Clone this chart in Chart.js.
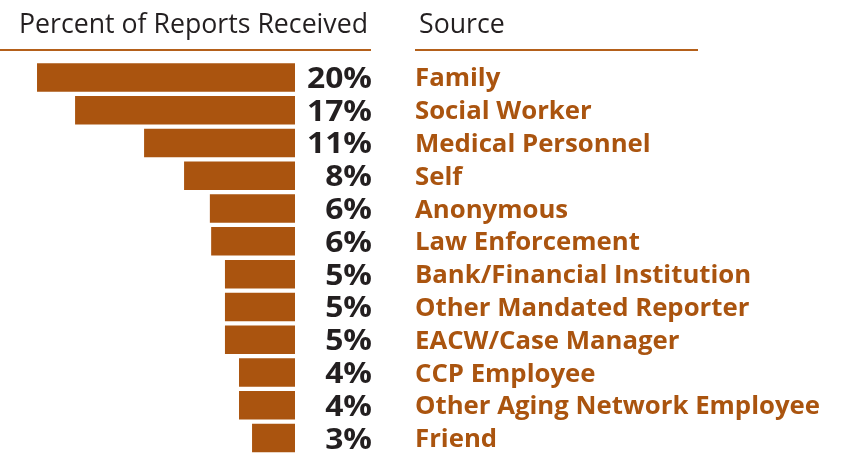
<!DOCTYPE html>
<html lang="en">
<head>
    <meta charset="UTF-8"/>
    <title>Percent of Reports Received by Source</title>
    <script src="https://cdn.jsdelivr.net/npm/chart.js"></script>
    <style>
        html, body {
            margin: 0;
            padding: 0;
            background-color: #fff;
            overflow: hidden;
        }
        #wrap {
            width: 845px;
            height: 458px;
            position: relative;
        }
    </style>
</head>
<body>
<div id="wrap">
    <canvas id="reportsChart" width="845" height="458"></canvas>
</div>

<script>
    // data
    const sources = [
        'Family', 'Social Worker', 'Medical Personnel', 'Self', 'Anonymous',
        'Law Enforcement', 'Bank/Financial Institution', 'Other Mandated Reporter',
        'EACW/Case Manager', 'CCP Employee', 'Other Aging Network Employee', 'Friend'
    ];
    const percentLabels = ['20%', '17%', '11%', '8%', '6%', '6%', '5%', '5%', '5%', '4%', '4%', '3%'];
    // bar lengths as drawn (the printed bars are not exactly proportional to the rounded labels)
    const barValues = [20.0, 17.05, 11.7, 8.6, 6.6, 6.5, 5.43, 5.43, 5.43, 4.34, 4.34, 3.33];

    const headerLeft = 'Percent of Reports Received';
    const headerRight = 'Source';

    const BROWN = '#aa540f';
    const INK = '#231f20';
    const FONT = '"Open Sans", "DejaVu Sans", sans-serif';

    // draw text squeezed horizontally so it matches the narrower original typeface
    function squeezedText(ctx, text, x, y, squeeze, align) {
        ctx.save();
        ctx.translate(x, y);
        ctx.scale(squeeze, 1);
        ctx.textAlign = align || 'left';
        ctx.fillText(text, 0, 0);
        ctx.restore();
    }

    const labelsPlugin = {
        id: 'labelsPlugin',
        afterDraw(chart) {
            const ctx = chart.ctx;
            const yScale = chart.scales.y;
            const right = chart.chartArea.right;

            ctx.save();
            ctx.textBaseline = 'alphabetic';

            // headers
            ctx.fillStyle = INK;
            ctx.font = '28px ' + FONT;
            let sq = 349 / ctx.measureText(headerLeft).width;
            squeezedText(ctx, headerLeft, 19, 33, sq);
            squeezedText(ctx, headerRight, 419, 33, sq);

            // header rules
            ctx.strokeStyle = '#b4601a';
            ctx.lineWidth = 2;
            ctx.beginPath();
            ctx.moveTo(0, 50); ctx.lineTo(right + 76, 50);
            ctx.moveTo(415, 50); ctx.lineTo(698, 50);
            ctx.stroke();

            // percent labels
            ctx.font = 'bold 29px ' + FONT;
            const sqPct = 65 / ctx.measureText('20%').width;
            ctx.fillStyle = INK;
            percentLabels.forEach((t, i) => {
                const y = yScale.getPixelForValue(i);
                squeezedText(ctx, t, right + 77, y + 10.5, sqPct, 'right');
            });

            // source labels
            ctx.font = 'bold 25px ' + FONT;
            const sqSrc = 405 / ctx.measureText('Other Aging Network Employee').width;
            ctx.fillStyle = BROWN;
            sources.forEach((t, i) => {
                const y = yScale.getPixelForValue(i);
                squeezedText(ctx, t, 415, y + 9, sqSrc, 'left');
            });
            ctx.restore();
        }
    };

    const ctxReports = document.getElementById('reportsChart').getContext('2d');

    new Chart(ctxReports, {
        type: 'bar',
        data: {
            labels: sources,
            datasets: [{
                data: barValues,
                backgroundColor: BROWN,
                borderWidth: 0,
                categoryPercentage: 1.0,
                barPercentage: 0.87
            }]
        },
        options: {
            indexAxis: 'y',
            responsive: false,
            animation: false,
            layout: {
                padding: { left: 0, right: 550, top: 61, bottom: 3.5 }
            },
            scales: {
                x: { display: false, reverse: true, min: 0, max: 22.87 },
                y: { display: false }
            },
            plugins: {
                legend: { display: false },
                tooltip: { enabled: false }
            }
        },
        plugins: [labelsPlugin]
    });
</script>
</body>
</html>
